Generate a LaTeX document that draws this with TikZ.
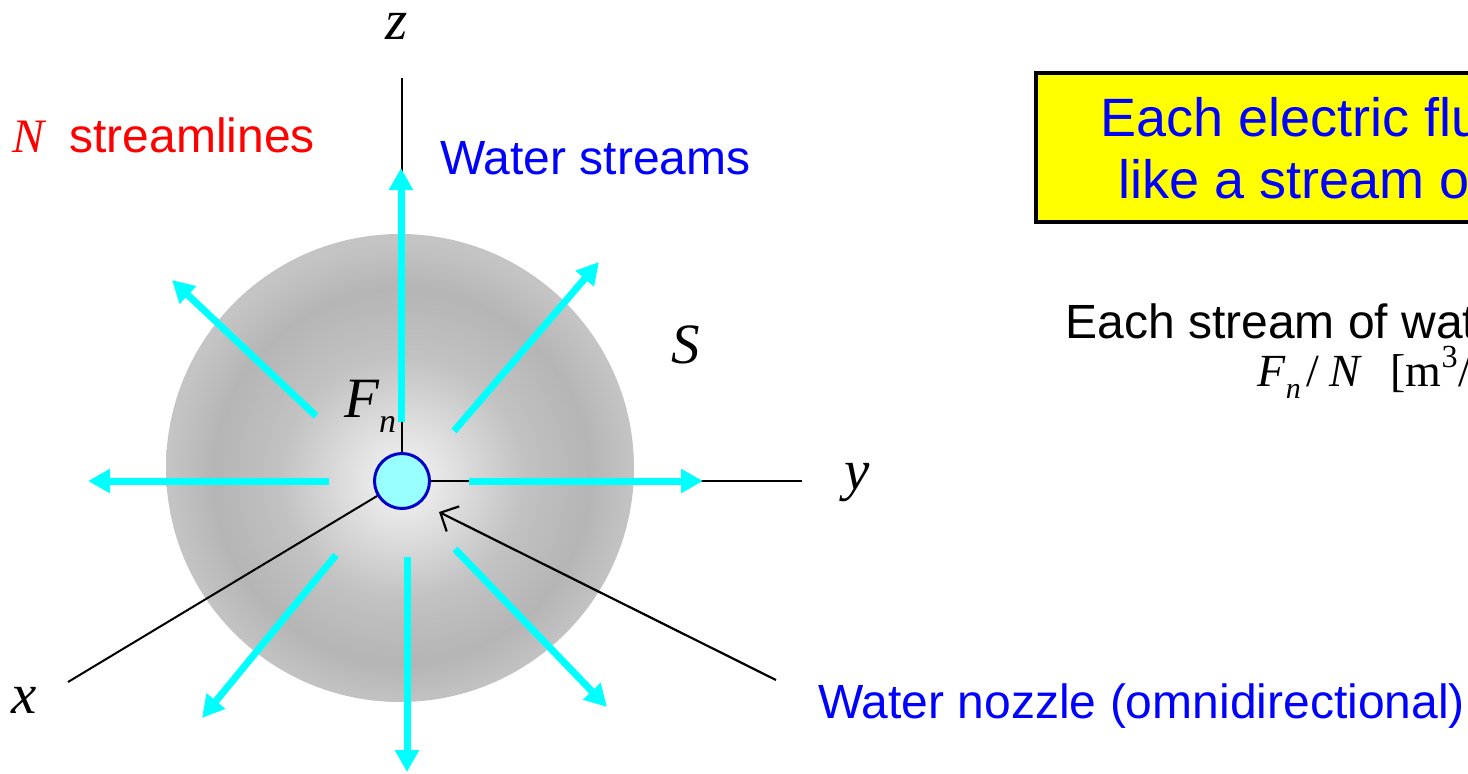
\documentclass[tikz,border=0pt]{standalone}
\usepackage{fontspec}
\setmainfont{Liberation Sans}
\newfontfamily\timesfont{Liberation Serif}
\usepackage{xcolor}
\usepackage{tikz}
\usetikzlibrary{arrows.meta, calc}

\definecolor{streamcyan}{HTML}{00FFFF}
\definecolor{nozzlefill}{HTML}{99FFFF}
\definecolor{nozzleline}{HTML}{0000CC}
\definecolor{textblue}{HTML}{0000FF}
\definecolor{textred}{HTML}{FF0000}
\definecolor{boxyellow}{HTML}{FFFF00}

\pgfdeclareradialshading{sphereshade}{\pgfpoint{0.3bp}{-1.4bp}}{%
  color(0bp)=(black!4); color(6bp)=(black!13); color(13bp)=(black!24);
  color(20bp)=(black!29); color(25bp)=(black!23); color(50bp)=(black!23)}

\newcommand{\mvar}[1]{{\timesfont\itshape #1}}

\begin{document}
\begin{tikzpicture}[x=0.5pt, y=-0.5pt,
    stream/.style={line width=3.5pt, streamcyan, -{Triangle[length=11pt,width=11.5pt]}},
    axis/.style={line width=1pt, black},
    pointer/.style={line width=1.1pt, black, -{Straight Barb[length=7pt,width=14pt]}},
    sanslabel/.style={font=\fontsize{24}{28}\selectfont, inner sep=0pt, anchor=base west},
    boxlabel/.style={font=\fontsize{27}{32}\selectfont, inner sep=0pt, anchor=base west, text=textblue},
    varlabel/.style={font=\timesfont\itshape\fontsize{28.5}{32}\selectfont, inner sep=0pt, anchor=base}]
    \useasboundingbox (0,0) rectangle (1468,773);

    % Sphere S
    \shade[shading=sphereshade] (400,468) circle (234);

    % Nozzle
    \node[circle, draw=nozzleline, fill=nozzlefill, line width=1.5pt,
          minimum size=27.5pt, inner sep=0pt] (nozzle) at (402,481) {};

    % Axes
    \coordinate (zend) at (402,78);
    \coordinate (yend) at (802,481);
    \coordinate (xend) at (68,682);
    \draw[axis] (nozzle) -- (zend);
    \draw[axis] (nozzle) -- (yend);
    \draw[axis] (nozzle) -- (xend);

    \node[varlabel] (zlabel) at (397,39) {z};
    \node[varlabel] (ylabel) at (857,489) {y};
    \node[varlabel] (xlabel) at (24,713) {x};
    \node[varlabel] (slabel) at (686,363) {S};
    \node[varlabel, anchor=base west] (flabel) at (344,417)
        {F\raisebox{-7.5pt}{\fontsize{17}{20}\selectfont n}};

    % Water streams
    \foreach \n/\tx/\ty/\hx/\hy in {up/401/422/401/168, ur/454/431/599/262,
        rt/469/481/703/481, dr/455/549/607/707, dn/407/557/407/772,
        dl/336/555/202/718, lt/329/481/88/481, ul/316/416/172/280} {
        \coordinate (s\n) at (\tx,\ty);
        \coordinate (e\n) at (\hx,\hy);
        \draw[stream] (s\n) -- (e\n);
    }

    % Pointer to nozzle
    \coordinate (ptail) at (776,680);
    \coordinate (ptip) at (439,512);
    \draw[pointer] (ptail) -- (ptip);

    % Labels
    \node[sanslabel, text=textred] (nlabel) at (12,152)
        {\mvar{N}\hspace{12.5pt}streamlines};
    \node[sanslabel, text=textblue] (wslabel) at (440,174) {Water streams};
    \node[sanslabel, text=textblue] (wnlabel) at (818,718) {Water nozzle (omnidirectional)};

    % Box
    \draw[line width=2pt, fill=boxyellow] (1036,73) rectangle (1530,222);
    \node[boxlabel] (boxline1) at (1100,136) {Each electric flux};
    \node[boxlabel] (boxline2) at (1118,198) {like a stream of};

    \node[sanslabel] (eachlabel) at (1065,338) {Each stream of water};
    \node[inner sep=0pt, anchor=base west, font=\timesfont\fontsize{23}{26}\selectfont]
        (ratelabel) at (1257,386)
        {\textit{F}\raisebox{-6pt}{\fontsize{15}{18}\selectfont\textit{n}}\hspace{3pt}/\hspace{5pt}\textit{N}\hspace{14pt}[m\textsuperscript{3}/s]};
\end{tikzpicture}
\end{document}
